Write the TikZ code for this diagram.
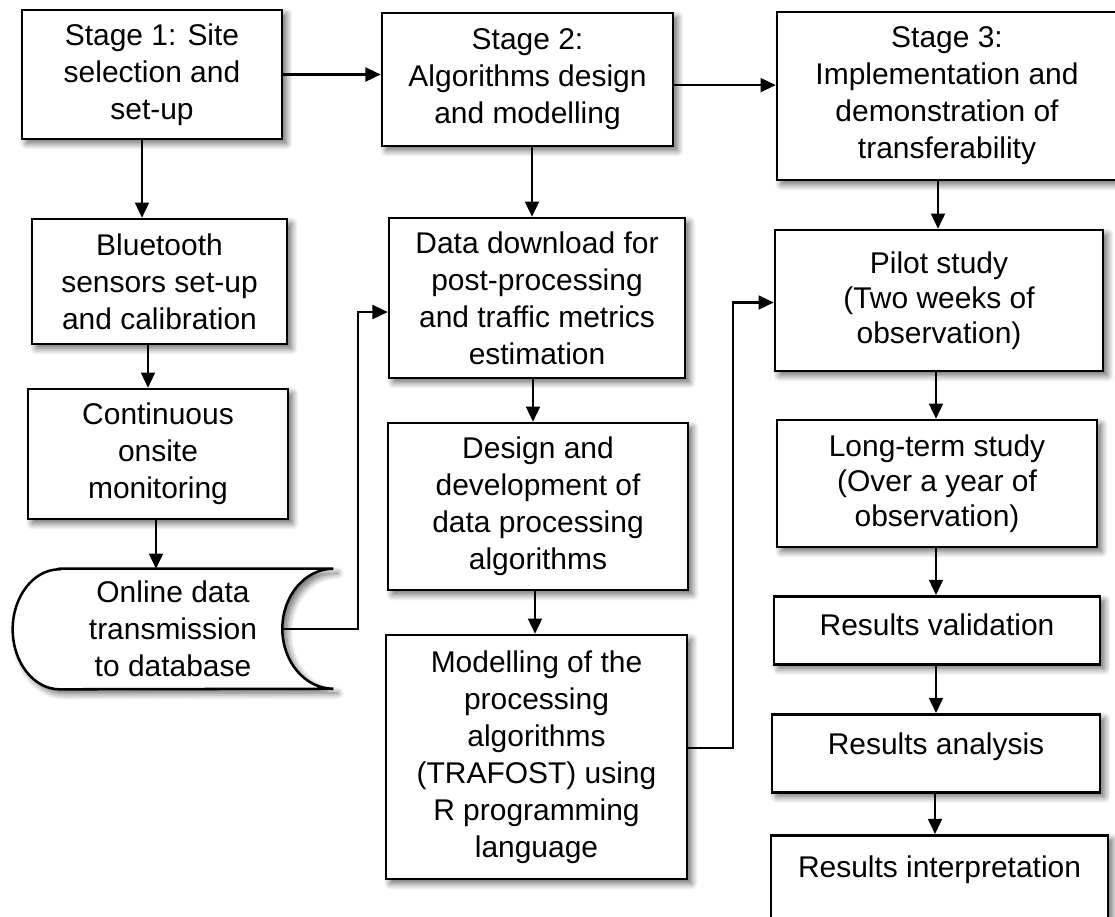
\documentclass[tikz,border=0pt]{standalone}
\usepackage{fontspec}
\setmainfont{Liberation Sans}
\usetikzlibrary{arrows.meta,shadows.blur,backgrounds}

\begin{document}
\begin{tikzpicture}[x=0.025cm, y=-0.025cm,
	every node/.style={font=\fontsize{21.3}{26.3}\selectfont},
	softshadow/.style={blur shadow={shadow xshift=0.11cm, shadow yshift=-0.11cm, shadow blur radius=0.16cm, shadow blur steps=10, shadow opacity=60}},
	stepbox/.style={draw, line width=1.8pt, fill=white, align=center, inner sep=0pt, softshadow},
	resultbox/.style={stepbox, anchor=north},
	arr/.style={line width=1.5pt, -{Triangle[length=0.38cm, width=0.35cm]}}]

		\useasboundingbox (0,0) rectangle (1115,916);
		\clip (0,0) rectangle (1115,916);

		% Define the nodes
		\node[stepbox, minimum width=6.5cm, minimum height=3.225cm] (stage_one) at (152,74.5) {Stage 1: Site\\selection and\\set-up};
		\node[stepbox, minimum width=6.375cm, minimum height=3.125cm] (bluetooth_setup) at (159.5,281.5) {Bluetooth\\sensors set-up\\and calibration};
		\node[stepbox, minimum width=6.5cm, minimum height=3.25cm] (onsite_monitoring) at (158,454) {Continuous\\onsite\\monitoring};
		\node[align=center, inner sep=0pt, minimum width=8cm, minimum height=3cm] (online_transmission) at (173,629) {Online data\\transmission\\to database};

		\node[stepbox, minimum width=7.275cm, minimum height=3.325cm] (stage_two) at (527.5,79.5) {Stage 2:\\Algorithms design\\and modelling};
		\node[stepbox, minimum width=7.4cm, minimum height=4cm] (data_download) at (537,298) {Data download for\\post-processing\\and traffic metrics\\estimation};
		\node[stepbox, minimum width=7.5cm, minimum height=4.175cm] (algorithm_design) at (538,506.5) {Design and\\development of\\data processing\\algorithms};
		\node[stepbox, minimum width=7.525cm, minimum height=6.1cm] (trafost_modelling) at (536.5,757) {Modelling of the\\processing\\algorithms\\(TRAFOST) using\\R programming\\language};

		\node[stepbox, minimum width=8.5cm, minimum height=4.2cm] (stage_three) at (947,96) {Stage 3:\\Implementation and\\demonstration of\\transferability};
		\node[stepbox, minimum width=8.2cm, minimum height=3.525cm, font=\fontsize{21.3}{24.9}\selectfont] (pilot_study) at (939,300.5) {Pilot study\\(Two weeks of\\observation)};
		\node[stepbox, minimum width=8cm, minimum height=3.175cm, font=\fontsize{21.3}{24.9}\selectfont] (long_term_study) at (937,483.5) {Long-term study\\(Over a year of\\observation)};
		\node[resultbox, minimum width=8.15cm, text height=0.975cm, text depth=0.725cm] (results_validation) at (937,595) {Results validation};
		\node[resultbox, minimum width=8.2cm, text height=1cm, text depth=0.95cm] (results_analysis) at (936,713) {Results analysis};
		\node[resultbox, minimum width=8.425cm, text height=1.05cm, text depth=1.5cm] (results_interpretation) at (939.5,834) {Results interpretation};

		% Stored data outline behind its text
		\begin{scope}[on background layer]
			\draw[line width=1.8pt, fill=white, softshadow] ([xshift=1.175cm]online_transmission.north west) -- (online_transmission.north east)
				arc[start angle=90, end angle=270, x radius=1.275cm, y radius=1.5cm]
				-- ([xshift=1.175cm]online_transmission.south west)
				arc[start angle=270, end angle=90, x radius=1.175cm, y radius=1.5cm] -- cycle;
		\end{scope}

		% Define the edges
		\draw[arr] (stage_one.east) -- (stage_one.east -| stage_two.west);
		\draw[arr] ([yshift=-0.14cm]stage_two.east) -- ([yshift=-0.14cm]stage_two.east -| stage_three.west);

		\draw[arr] (stage_one.south -| 142,0) -- (bluetooth_setup.north -| 142,0);
		\draw[arr] (bluetooth_setup.south -| 148,0) -- (onsite_monitoring.north -| 148,0);
		\draw[arr] (onsite_monitoring.south -| 156,0) -- (online_transmission.north -| 156,0);
		\draw[arr] ([xshift=-1.275cm]online_transmission.east) -- ++(76,0) |- ([yshift=-0.35cm]data_download.west);

		\draw[arr] (stage_two.south -| 532,0) -- (data_download.north -| 532,0);
		\draw[arr] (data_download.south -| 533,0) -- (algorithm_design.north -| 533,0);
		\draw[arr] (algorithm_design.south -| 535,0) -- (trafost_modelling.north -| 535,0);
		\draw[arr] ([yshift=0.225cm]trafost_modelling.east) -- ++(45,0) |- ([yshift=-0.05cm]pilot_study.west);

		\draw[arr] (stage_three.south -| 938,0) -- (pilot_study.north -| 938,0);
		\draw[arr] (pilot_study.south -| 936,0) -- (long_term_study.north -| 936,0);
		\draw[arr] (long_term_study.south -| 936,0) -- (results_validation.north -| 936,0);
		\draw[arr] (results_validation.south -| 936,0) -- (results_analysis.north -| 936,0);
		\draw[arr] (results_analysis.south -| 935,0) -- (results_interpretation.north -| 935,0);

	\end{tikzpicture}
\end{document}
